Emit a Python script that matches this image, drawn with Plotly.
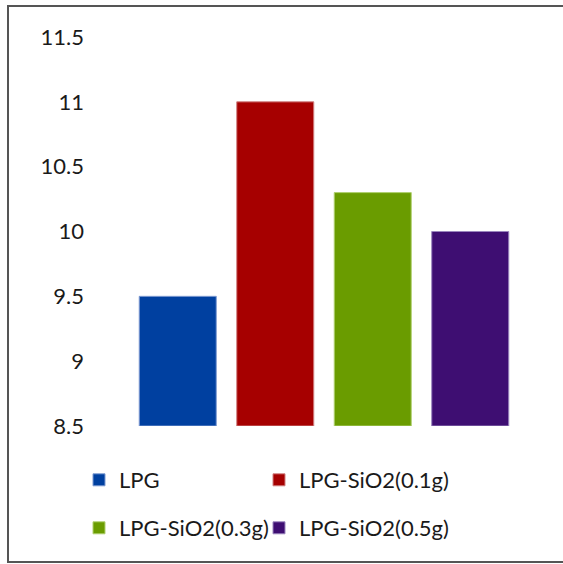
import plotly.graph_objects as go

# Series names, values and colours
names = ["LPG", "LPG-SiO2(0.1g)", "LPG-SiO2(0.3g)", "LPG-SiO2(0.5g)"]
values = [9.5, 11.0, 10.3, 10.0]
fill_colors = ["#0040A0", "#A60000", "#6A9C00", "#3E0E72"]
edge_colors = ["#7D9AD2", "#D08080", "#B0D070", "#9A86BE"]

# Axis ticks
y_ticks = [8.5, 9, 9.5, 10, 10.5, 11, 11.5]
y_tick_text = ["8.5", "9", "9.5", "10", "10.5", "11", "11.5"]

FONT = "Lato"
W, H = 563, 564
L, R, T, B = 129, 44, 37, 138
PW, PH = W - L - R, H - T - B


def px_to_paper_x(px):
    return (px - L) / PW


def px_to_paper_y(py):
    return (H - B - py) / PH


# One legend box per entry, arranged as a 2 x 2 grid under the plot
legend_ids = ["legend", "legend2", "legend3", "legend4"]
legend_pos = [(79, 480), (259, 480), (79, 528), (259, 528)]

fig = go.Figure()
for i, (n, v) in enumerate(zip(names, values)):
    fig.add_trace(go.Bar(
        x=[i], y=[v - 8.5], base=8.5, name=n, width=0.79,
        marker=dict(color=fill_colors[i], line=dict(color=edge_colors[i], width=1)),
        legend=legend_ids[i],
    ))

legend_common = dict(
    orientation="h", xanchor="left", yanchor="middle",
    font=dict(family=FONT, size=22, color="#1a1a1a"),
    bgcolor="rgba(0,0,0,0)", borderwidth=0,
    itemclick=False, itemdoubleclick=False,
)
legends = {
    lid: dict(x=px_to_paper_x(px), y=px_to_paper_y(py), **legend_common)
    for lid, (px, py) in zip(legend_ids, legend_pos)
}

fig.update_layout(
    width=W, height=H,
    margin=dict(l=L, r=R, t=T, b=B),
    paper_bgcolor="white", plot_bgcolor="white",
    barmode="overlay",
    showlegend=True,
    **legends,
    xaxis=dict(range=[-0.5, 3.5], showticklabels=False, showgrid=False,
               zeroline=False, showline=False, ticks=""),
    yaxis=dict(range=[8.5, 11.5], tickvals=y_ticks, ticktext=y_tick_text,
               showgrid=False, zeroline=False, showline=False, ticks="",
               ticklabelstandoff=44,
               tickfont=dict(family=FONT, size=22, color="#1a1a1a")),
    shapes=[dict(type="rect", xref="paper", yref="paper",
                 x0=px_to_paper_x(8), x1=px_to_paper_x(570),
                 y0=px_to_paper_y(562), y1=px_to_paper_y(6),
                 line=dict(color="#555555", width=2), fillcolor="rgba(0,0,0,0)",
                 layer="below")],
)

fig.write_html("out.html")
